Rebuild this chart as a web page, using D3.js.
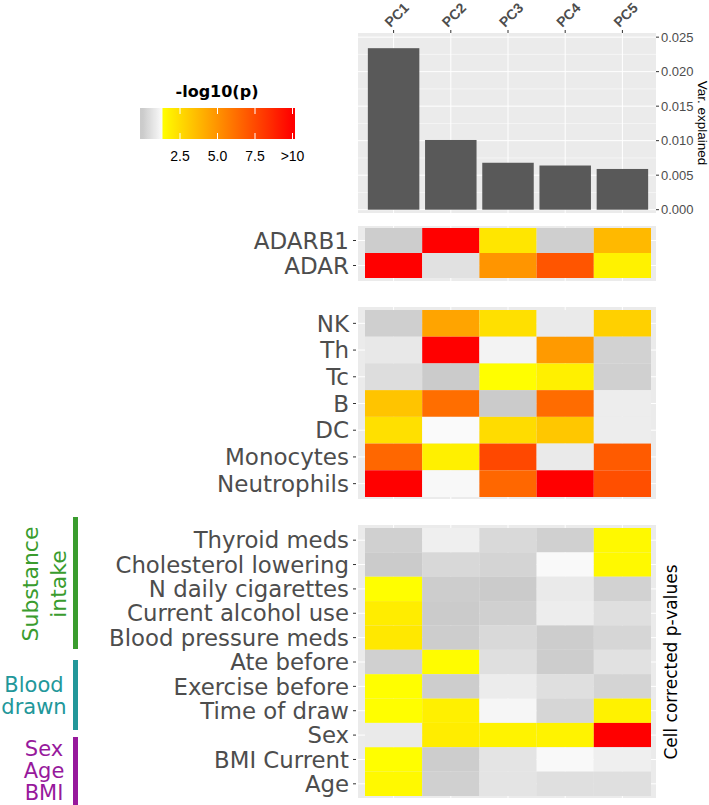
<!DOCTYPE html>
<html><head><meta charset="utf-8">
<script src="https://cdn.jsdelivr.net/npm/d3@7"></script>
<style>body{margin:0;background:#fff}svg{display:block}</style>
</head><body>
<svg id="c" width="709" height="805"></svg>
<script>
const pcs = ["PC1","PC2","PC3","PC4","PC5"];
const varExplained = [0.0234, 0.0101, 0.0068, 0.0064, 0.0059];
const varTicks = [0, 0.005, 0.010, 0.015, 0.020, 0.025];
const legendTicks = [2.5, 5.0, 7.5, 10];
const legendLabels = ["2.5", "5.0", "7.5", ">10"];
const genes = ["ADARB1", "ADAR"];
const geneP = [
  [0.05, 10, 2.15, 0.1, 3.7],
  [10, 0.6, 4.9, 7.1, 1.75]
];
const cellTypes = ["NK","Th","Tc","B","DC","Monocytes","Neutrophils"];
const cellP = [
  [0.1, 4.4, 2.35, 0.85, 2.9],
  [0.8, 10, 1.1, 4.75, 0.2],
  [0.5, 0.0, 1.35, 1.8, 0.15],
  [3.3, 6.25, 0.0, 6.3, 0.95],
  [2.35, 1.29, 2.5, 3.2, 0.95],
  [6.5, 1.8, 7.55, 0.85, 6.9],
  [10, 1.25, 6.5, 10, 7.3]
];
const covariates = ["Thyroid meds","Cholesterol lowering","N daily cigarettes","Current alcohol use","Blood pressure meds","Ate before","Exercise before","Time of draw","Sex","BMI Current","Age"];
const covarP = [
  [0.15, 1.0, 0.4, 0.15, 1.5],
  [0.0, 0.35, 0.25, 1.28, 1.5],
  [1.35, 0.05, 0.0, 0.85, 0.2],
  [1.9, 0.0, 0.15, 0.95, 0.55],
  [2.1, 0.05, 0.4, 0.05, 0.3],
  [0.15, 1.4, 0.55, 0.05, 0.6],
  [1.35, 0.05, 0.9, 0.55, 0.25],
  [1.35, 1.8, 1.2, 0.3, 1.75],
  [0.85, 1.9, 1.7, 1.7, 10],
  [1.35, 0.05, 0.7, 1.28, 1.0],
  [1.5, 0.15, 0.7, 0.55, 0.55]
];
const groups = [
  {lines:["Substance","intake"], color:"#3a9c2e"},
  {lines:["Blood","drawn"], color:"#22979a"},
  {lines:["Sex","Age","BMI"], color:"#97199c"}
];

const svg = d3.select("#c");
const LAB = "DejaVu Sans, sans-serif";
const ARIAL = "Liberation Sans, Arial, sans-serif";
const TXT = "#4d4d4d";
const PBG = "#ebebeb";

function col(v){
  if (v < 1.3) return d3.interpolateRgb("#cbcbcb", "#fafafa")(v/1.3);
  return d3.interpolateRgb("#ffff00", "#ff0000")(Math.min(1, (v-1.3)/8.7));
}

const x = d3.scaleBand().domain(pcs).range([365, 651]).padding(0);
const panelX0 = 358, panelX1 = 656;

// ---------- Bar chart ----------
const y = d3.scaleLinear().domain([-0.00048, 0.0256]).range([213, 33]);
const bar = svg.append("g");
bar.append("rect").attr("x", panelX0).attr("y", 33).attr("width", panelX1-panelX0).attr("height", 180).attr("fill", PBG);
const minor = d3.range(0.0025, 0.026, 0.005);
bar.selectAll(".mn").data(minor).join("line")
  .attr("x1", panelX0).attr("x2", panelX1).attr("y1", d=>y(d)).attr("y2", d=>y(d))
  .attr("stroke", "#fff").attr("stroke-width", 0.5);
bar.selectAll(".mj").data(varTicks).join("line")
  .attr("x1", panelX0).attr("x2", panelX1).attr("y1", d=>y(d)).attr("y2", d=>y(d))
  .attr("stroke", "#fff").attr("stroke-width", 1);
bar.selectAll(".vg").data(pcs).join("line")
  .attr("x1", d=>x(d)+x.bandwidth()/2).attr("x2", d=>x(d)+x.bandwidth()/2)
  .attr("y1", 33).attr("y2", 213).attr("stroke", "#fff").attr("stroke-width", 1);
bar.selectAll(".bar").data(pcs).join("rect")
  .attr("x", d=>x(d)+x.bandwidth()*0.05).attr("width", x.bandwidth()*0.9)
  .attr("y", (d,i)=>y(varExplained[i])).attr("height", (d,i)=>y(0)-y(varExplained[i]))
  .attr("fill", "#595959");
// right axis
const ra = bar.append("g");
ra.selectAll("line").data(varTicks).join("line")
  .attr("x1", panelX1).attr("x2", panelX1+3).attr("y1", d=>y(d)).attr("y2", d=>y(d))
  .attr("stroke", "#333").attr("stroke-width", 1);
ra.selectAll("text").data(varTicks).join("text")
  .attr("x", panelX1+5).attr("y", d=>y(d)).attr("dy", "0.35em")
  .attr("font-family", ARIAL).attr("font-size", 13).attr("fill", TXT)
  .text(d=>d3.format(".3f")(d));
bar.append("text").attr("transform", "translate(698,123) rotate(90)")
  .attr("text-anchor", "middle").attr("font-family", ARIAL).attr("font-size", 13.5)
  .attr("fill", "#000").text("Var. explained");
// top axis
bar.selectAll(".tt").data(pcs).join("line")
  .attr("x1", d=>x(d)+x.bandwidth()/2).attr("x2", d=>x(d)+x.bandwidth()/2)
  .attr("y1", 30).attr("y2", 33).attr("stroke", "#333");
bar.selectAll(".tl").data(pcs).join("text")
  .attr("transform", d=>`translate(${x(d)+x.bandwidth()/2-3},28) rotate(-45)`)
  .attr("font-family", ARIAL).attr("font-weight", "bold").attr("font-size", 14)
  .attr("fill", TXT).text(d=>d);

// ---------- Legend ----------
const lx = d3.scaleLinear().domain([0, 10]).range([142.5, 292.5]);
const defs = svg.append("defs");
const grad = defs.append("linearGradient").attr("id", "lg");
const gx0 = 140, gx1 = 295;
d3.range(0, 101).forEach(i=>{
  const px = gx0 + (gx1-gx0)*i/100;
  const v = lx.invert(px);
  grad.append("stop").attr("offset", i+"%").attr("stop-color", col(Math.max(0, v)));
});
svg.append("rect").attr("x", gx0).attr("y", 108).attr("width", gx1-gx0).attr("height", 31).attr("fill", "url(#lg)");
svg.selectAll(".lt").data(legendTicks).join("g").each(function(d){
  const g = d3.select(this);
  g.append("line").attr("x1", lx(d)).attr("x2", lx(d)).attr("y1", 108).attr("y2", 114).attr("stroke", "#fff");
  g.append("line").attr("x1", lx(d)).attr("x2", lx(d)).attr("y1", 133).attr("y2", 139).attr("stroke", "#fff");
});
svg.selectAll(".ll").data(legendTicks).join("text")
  .attr("x", d=>lx(d)).attr("y", 161).attr("text-anchor", "middle")
  .attr("font-family", ARIAL).attr("font-size", 14).attr("fill", "#000")
  .text((d,i)=>legendLabels[i]);
svg.append("text").attr("x", 217).attr("y", 97).attr("text-anchor", "middle")
  .attr("font-family", LAB).attr("font-weight", "bold").attr("font-size", 16)
  .attr("fill", "#000").text("-log10(p)");

// ---------- Heatmaps ----------
function heat(rows, vals, bgTop, bgBot, cTop, cBot, fs){
  const g = svg.append("g");
  const yb = d3.scaleBand().domain(rows).range([cTop, cBot]);
  g.append("rect").attr("x", panelX0).attr("y", bgTop).attr("width", panelX1-panelX0).attr("height", bgBot-bgTop).attr("fill", PBG);
  g.selectAll(".hv").data(pcs).join("line")
    .attr("x1", d=>x(d)+x.bandwidth()/2).attr("x2", d=>x(d)+x.bandwidth()/2)
    .attr("y1", bgTop).attr("y2", bgBot).attr("stroke", "#fff");
  g.selectAll(".hh").data(rows).join("line")
    .attr("x1", panelX0).attr("x2", panelX1)
    .attr("y1", d=>yb(d)+yb.bandwidth()/2).attr("y2", d=>yb(d)+yb.bandwidth()/2).attr("stroke", "#fff");
  rows.forEach((r, ri)=>{
    g.selectAll(null).data(pcs).join("rect")
      .attr("x", d=>x(d)).attr("width", x.bandwidth())
      .attr("y", yb(r)).attr("height", yb.bandwidth())
      .attr("fill", (d,ci)=>col(vals[ri][ci]));
  });
  g.selectAll(".tk").data(rows).join("line")
    .attr("x1", panelX0-5).attr("x2", panelX0-2)
    .attr("y1", d=>yb(d)+yb.bandwidth()/2).attr("y2", d=>yb(d)+yb.bandwidth()/2)
    .attr("stroke", "#333");
  g.selectAll(".lb").data(rows).join("text")
    .attr("x", panelX0-9).attr("y", d=>yb(d)+yb.bandwidth()/2).attr("dy", "0.36em")
    .attr("text-anchor", "end").attr("font-family", LAB).attr("font-size", fs)
    .attr("fill", TXT).text(d=>d);
  return g;
}
heat(genes, geneP, 226, 281, 228, 278, 23);
heat(cellTypes, cellP, 307, 499, 310, 497, 23);
heat(covariates, covarP, 525, 798, 528, 796, 22.8);

svg.append("text").attr("transform", "translate(677,662) rotate(-90)")
  .attr("text-anchor", "middle").attr("font-family", LAB).attr("font-size", 17)
  .attr("fill", "#000").text("Cell corrected p-values");

// ---------- Group annotations ----------
const gBars = [[517, 649], [660, 730], [737, 806]];
gBars.forEach((b, i)=>{
  svg.append("rect").attr("x", 73).attr("y", b[0]).attr("width", 5).attr("height", b[1]-b[0]).attr("fill", groups[i].color);
});
// Substance intake (rotated)
const si = svg.append("text").attr("transform", "translate(0,584) rotate(-90)")
  .attr("text-anchor", "middle").attr("font-family", LAB).attr("font-size", 22).attr("fill", groups[0].color);
si.append("tspan").attr("x", 0).attr("y", 38).text(groups[0].lines[0]);
si.append("tspan").attr("x", 0).attr("y", 66).text(groups[0].lines[1]);
// Blood drawn
const bd = svg.append("text").attr("text-anchor", "middle").attr("font-family", LAB).attr("font-size", 21).attr("fill", groups[1].color);
bd.append("tspan").attr("x", 34).attr("y", 692).text(groups[1].lines[0]);
bd.append("tspan").attr("x", 34).attr("y", 714).text(groups[1].lines[1]);
const sa = svg.append("text").attr("text-anchor", "middle").attr("font-family", LAB).attr("font-size", 21).attr("fill", groups[2].color);
sa.append("tspan").attr("x", 44).attr("y", 756).text(groups[2].lines[0]);
sa.append("tspan").attr("x", 44).attr("y", 778).text(groups[2].lines[1]);
sa.append("tspan").attr("x", 44).attr("y", 800).text(groups[2].lines[2]);
</script>
</body></html>
